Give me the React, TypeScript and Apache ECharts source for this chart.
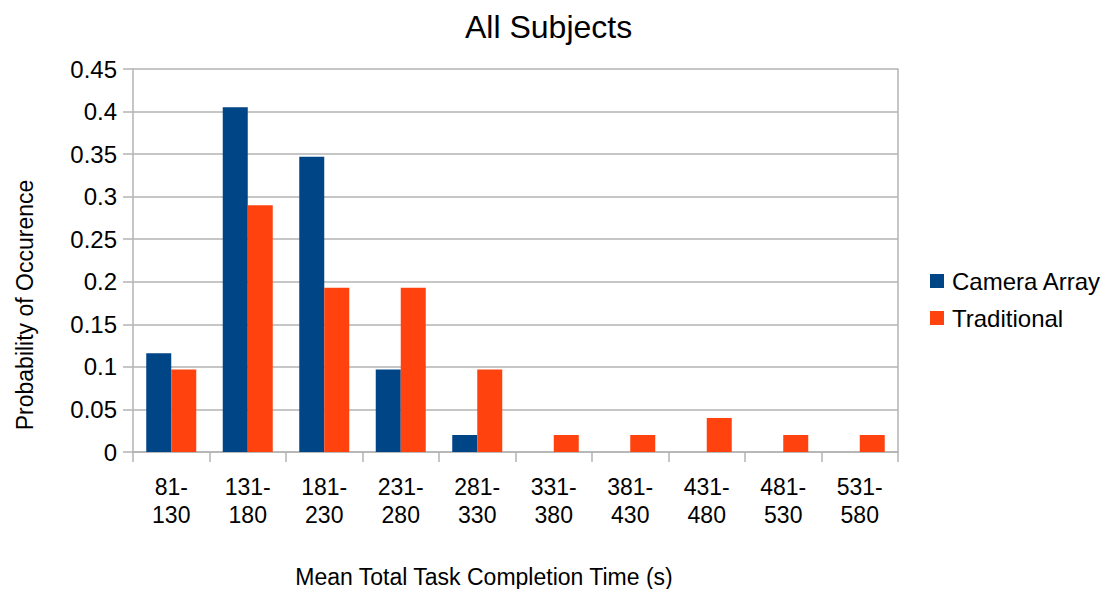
import React, { useEffect, useRef } from "react";
import * as echarts from "echarts";

const categories = [
  "81-\n130",
  "131-\n180",
  "181-\n230",
  "231-\n280",
  "281-\n330",
  "331-\n380",
  "381-\n430",
  "431-\n480",
  "481-\n530",
  "531-\n580",
];

const cameraArray = [0.116, 0.405, 0.347, 0.097, 0.02, 0, 0, 0, 0, 0];
const traditional = [0.097, 0.29, 0.193, 0.193, 0.097, 0.02, 0.02, 0.04, 0.02, 0.02];

const FONT = "'Liberation Sans', Arial, sans-serif";
const GRID_COLOR = "#b3b3b3";

export default function App() {
  const ref = useRef<HTMLDivElement>(null);

  useEffect(() => {
    if (!ref.current) return;
    const chart = echarts.init(ref.current, null, { renderer: "svg" });
    chart.setOption({
      animation: false,
      backgroundColor: "#ffffff",
      textStyle: { fontFamily: FONT },
      title: {
        text: "All Subjects",
        left: 460,
        top: 6,
        textStyle: { fontFamily: FONT, fontSize: 32, fontWeight: "normal", color: "#000" },
      },
      legend: {
        orient: "vertical",
        left: 925,
        top: 264,
        itemWidth: 14,
        itemHeight: 14,
        itemGap: 13,
        icon: "rect",
        textStyle: { fontFamily: FONT, fontSize: 24, color: "#000", padding: [0, 0, 0, 3] },
        data: ["Camera Array", "Traditional"],
      },
      grid: { left: 133, right: 210, top: 69, bottom: 137 },
      xAxis: {
        type: "category",
        data: categories,
        boundaryGap: true,
        axisLine: { show: true, lineStyle: { color: GRID_COLOR, width: 1.5 } },
        axisTick: { show: true, length: 10, lineStyle: { color: GRID_COLOR, width: 1.5 } },
        axisLabel: {
          fontFamily: FONT,
          fontSize: 23,
          lineHeight: 28,
          color: "#000",
          margin: 21,
          interval: 0,
        },
        splitLine: { show: false },
      },
      yAxis: [
        {
          type: "value",
          min: 0,
          max: 0.45,
          interval: 0.05,
          axisLine: { show: true, lineStyle: { color: GRID_COLOR, width: 1.5 } },
          axisTick: { show: true, length: 10, lineStyle: { color: GRID_COLOR, width: 1.5 } },
          axisLabel: {
            fontFamily: FONT,
            fontSize: 24,
            color: "#000",
            margin: 16,
            formatter: (v: number) => String(parseFloat(v.toFixed(2))),
          },
          splitLine: { show: true, lineStyle: { color: GRID_COLOR, width: 1.5 } },
        },
        {
          type: "value",
          position: "right",
          min: 0,
          max: 0.45,
          interval: 0.05,
          axisLine: { show: true, lineStyle: { color: GRID_COLOR, width: 1.5 } },
          axisTick: { show: false },
          axisLabel: { show: false },
          splitLine: { show: false },
        },
      ],
      series: [
        {
          name: "Camera Array",
          type: "bar",
          data: cameraArray,
          barWidth: 25,
          barGap: "0%",
          itemStyle: { color: "#004586" },
        },
        {
          name: "Traditional",
          type: "bar",
          data: traditional,
          barWidth: 25,
          barGap: "0%",
          itemStyle: { color: "#ff420e" },
        },
      ],
      graphic: [
        {
          type: "text",
          x: 484,
          y: 577,
          style: {
            text: "Mean Total Task Completion Time (s)",
            font: `23px ${FONT}`,
            fill: "#000",
            align: "center",
            verticalAlign: "middle",
          },
        },
        {
          type: "text",
          x: 25,
          y: 305,
          rotation: Math.PI / 2,
          style: {
            text: "Probability of Occurence",
            font: `23px ${FONT}`,
            fill: "#000",
            align: "center",
            verticalAlign: "middle",
          },
        },
      ],
    });
    return () => chart.dispose();
  }, []);

  return (
    <div
      ref={ref}
      style={{ position: "absolute", left: 0, top: 0, width: 1108, height: 589 }}
    />
  );
}
